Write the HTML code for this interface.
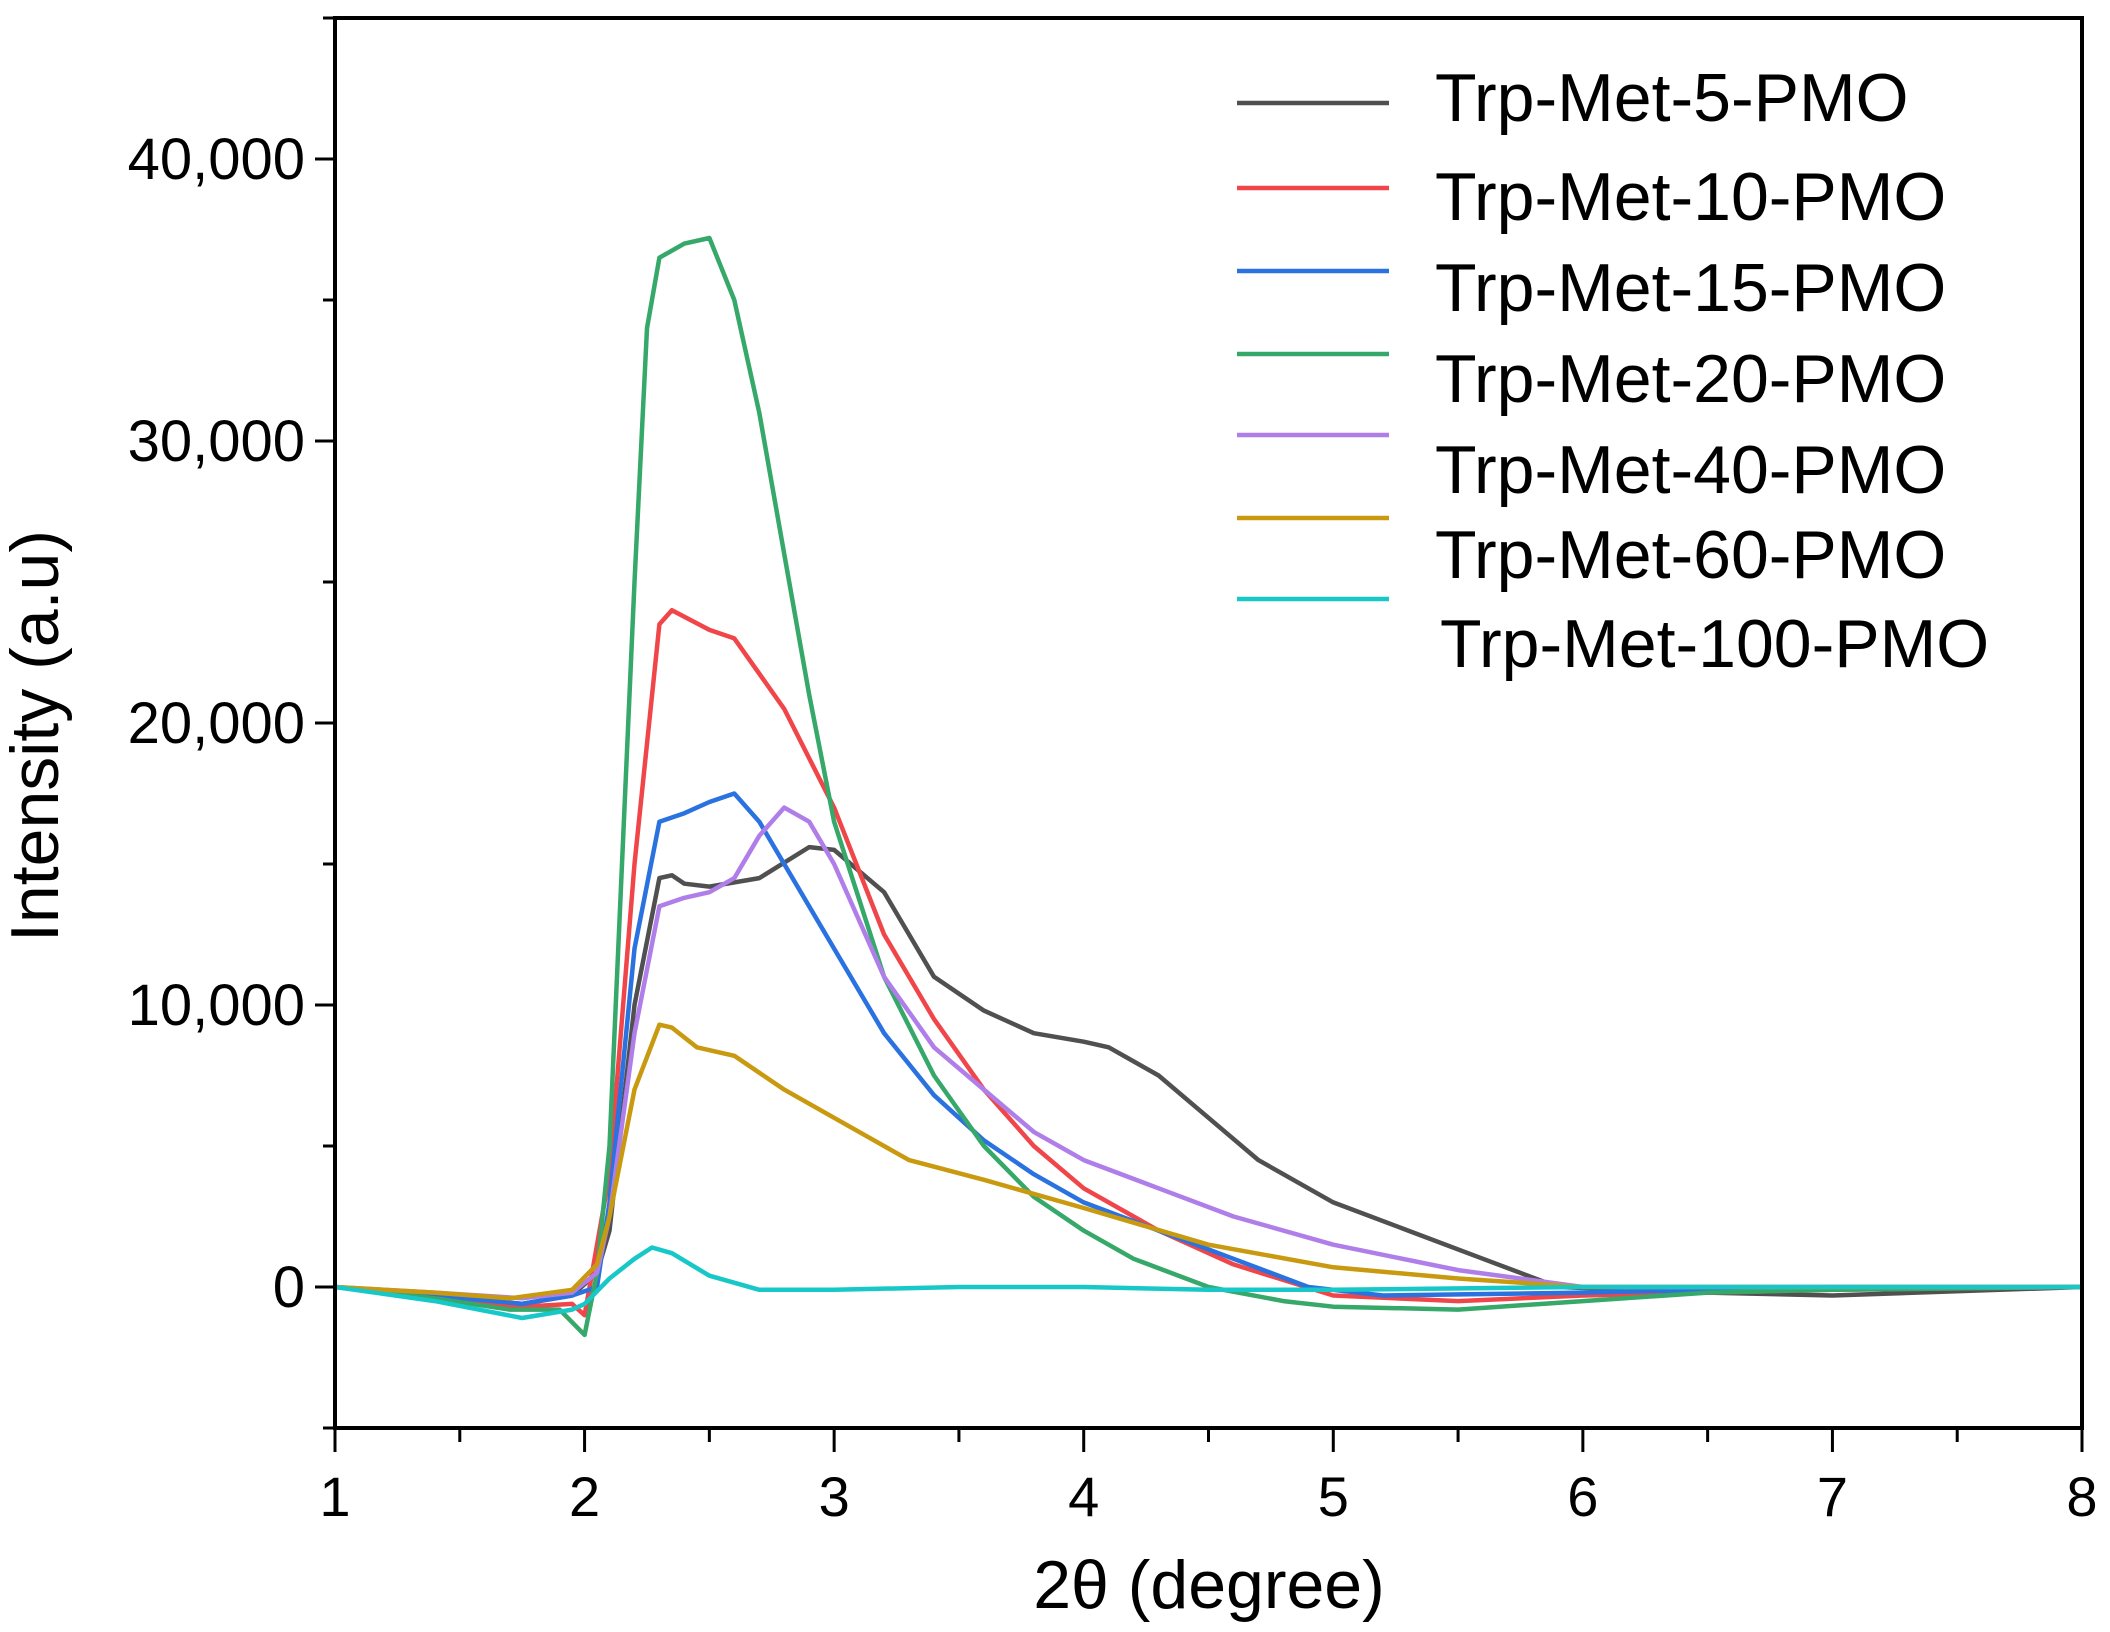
<!DOCTYPE html>
<html><head><meta charset="utf-8"><style>
html,body{margin:0;padding:0;background:#fff;}
svg{display:block;font-family:"Liberation Sans",Arial,sans-serif;}
</style></head><body>
<svg id="chart" width="2110" height="1632" viewBox="0 0 2110 1632" xmlns="http://www.w3.org/2000/svg">
<g id="plot"></g>
<g id="axes"></g>
<g id="legend"></g>
<text x="1209" y="1608" font-size="68" text-anchor="middle">2θ (degree)</text>
<text transform="translate(58,736) rotate(-90)" font-size="68" text-anchor="middle">Intensity (a.u)</text>
</svg>
<script>
const seriesNames = ["Trp-Met-5-PMO","Trp-Met-10-PMO","Trp-Met-15-PMO","Trp-Met-20-PMO","Trp-Met-40-PMO","Trp-Met-60-PMO","Trp-Met-100-PMO"];
const seriesColors = ["#505050","#f0464a","#2a72e0","#35a86a","#b07ee8","#c99a10","#18c8c8"];
const xTicks = [1,2,3,4,5,6,7,8];
const yTicks = [0,10000,20000,30000,40000];
const yTickLabels = ["0","10,000","20,000","30,000","40,000"];
const s5x = [1,1.4,1.75,1.95,2.05,2.1,2.2,2.3,2.35,2.4,2.5,2.7,2.9,3.0,3.2,3.4,3.6,3.8,4.0,4.1,4.3,4.5,4.7,5.0,5.3,5.6,5.9,6.5,7,8];
const s5y = [0,-300,-600,-300,500,2000,10000,14500,14600,14300,14200,14500,15600,15500,14000,11000,9800,9000,8700,8500,7500,6000,4500,3000,2000,1000,0,-200,-300,0];
const s10x = [1,1.4,1.75,1.95,2.0,2.1,2.2,2.3,2.35,2.5,2.6,2.8,3.0,3.2,3.4,3.6,3.8,4.0,4.3,4.6,5.0,5.5,6,7,8];
const s10y = [0,-400,-700,-600,-1000,4000,15000,23500,24000,23300,23000,20500,17000,12500,9500,7000,5000,3500,2000,800,-300,-500,-300,-100,0];
const s15x = [1,1.4,1.75,1.95,2.05,2.1,2.2,2.3,2.4,2.5,2.6,2.7,2.8,3.0,3.2,3.4,3.6,3.8,4.0,4.3,4.6,4.9,5.2,6,7,8];
const s15y = [0,-300,-600,-300,0,3000,12000,16500,16800,17200,17500,16500,15000,12000,9000,6800,5200,4000,3000,2000,1000,0,-300,-200,0,0];
const s20x = [1,1.4,1.7,1.9,2.0,2.05,2.1,2.2,2.25,2.3,2.4,2.5,2.6,2.7,2.8,2.9,3.0,3.2,3.4,3.6,3.8,4.0,4.2,4.5,4.8,5.0,5.5,6.0,6.5,7,8];
const s20y = [0,-400,-800,-800,-1700,500,5000,25000,34000,36500,37000,37200,35000,31000,26000,21000,16500,11000,7500,5000,3200,2000,1000,0,-500,-700,-800,-500,-200,-100,0];
const s40x = [1,1.4,1.75,1.95,2.05,2.1,2.2,2.3,2.4,2.5,2.6,2.7,2.8,2.9,3.0,3.2,3.4,3.6,3.8,4.0,4.3,4.6,5.0,5.5,6.0,7,8];
const s40y = [0,-200,-400,-200,500,2500,9000,13500,13800,14000,14500,16000,17000,16500,15000,11000,8500,7000,5500,4500,3500,2500,1500,600,0,0,0];
const s60x = [1,1.4,1.7,1.95,2.05,2.1,2.2,2.3,2.35,2.45,2.6,2.8,3.0,3.3,3.6,4.0,4.5,5.0,5.5,6,7,8];
const s60y = [0,-200,-400,-100,800,2500,7000,9300,9200,8500,8200,7000,6000,4500,3800,2800,1500,700,300,0,0,0];
const s100x = [1,1.4,1.75,1.95,2.0,2.1,2.2,2.27,2.35,2.5,2.7,3.0,3.5,4.0,4.5,5,6,7,8];
const s100y = [0,-500,-1100,-800,-600,300,1000,1400,1200,400,-100,-100,0,0,-100,-100,0,0,0];
const allX = [s5x,s10x,s15x,s20x,s40x,s60x,s100x];
const allY = [s5y,s10y,s15y,s20y,s40y,s60y,s100y];

const X0=335,X1=2082,Y_TOP=18,Y_BOT=1428;
const xS = v => X0 + (v-1)/7*(X1-X0);
const yS = v => Y_BOT - (v+5000)/50000*(Y_BOT-Y_TOP);
const NS="http://www.w3.org/2000/svg";
function mk(tag,attrs,parent){const e=document.createElementNS(NS,tag);for(const k in attrs)e.setAttribute(k,attrs[k]);parent.appendChild(e);return e;}

const plot=document.getElementById('plot');
allX.forEach((xs,i)=>{
  const d=xs.map((x,j)=>(j?'L':'M')+xS(x).toFixed(1)+','+yS(allY[i][j]).toFixed(1)).join(' ');
  const p=mk('path',{d:d,fill:'none',stroke:seriesColors[i],'stroke-width':4.5,'stroke-linejoin':'round'},plot);
  
  
});

const axes=document.getElementById('axes');
const frame=mk('rect',{x:X0,y:Y_TOP,width:X1-X0,height:Y_BOT-Y_TOP,fill:'none',stroke:'#000','stroke-width':4},axes);


for(let v=1;v<=8.001;v+=0.5){
  const major=Math.abs(v-Math.round(v))<1e-6;
  const t=mk('line',{x1:xS(v),x2:xS(v),y1:Y_BOT,y2:Y_BOT+(major?24:14),stroke:'#000','stroke-width':3},axes);
  
  
}
xTicks.forEach(v=>{
  const t=mk('text',{x:xS(v),y:Y_BOT+88,'font-size':56,'text-anchor':'middle'},axes);
  t.textContent=v;
  
  
});
for(let v=-5000;v<=45000;v+=5000){
  const major=v%10000===0;
  const t=mk('line',{x1:X0,x2:X0-(major?20:12),y1:yS(v),y2:yS(v),stroke:'#000','stroke-width':3},axes);
  
  
}
yTicks.forEach((v,i)=>{
  const t=mk('text',{x:X0-30,y:yS(v)+20,'font-size':58,'text-anchor':'end'},axes);
  t.textContent=yTickLabels[i];
  
  
});

const legend=document.getElementById('legend');
const lineY=[103,188,271,354,435,518,599];
const textY=[121,220,311,402,493,578,667];
seriesNames.forEach((n,i)=>{
  const l=mk('line',{x1:1237,x2:1389,y1:lineY[i],y2:lineY[i],stroke:seriesColors[i],'stroke-width':4.5},legend);
  
  
  const t=mk('text',{x:i===6?1440:1435,y:textY[i],'font-size':68},legend);
  t.textContent=n;
  
  
});
</script>
</body></html>
